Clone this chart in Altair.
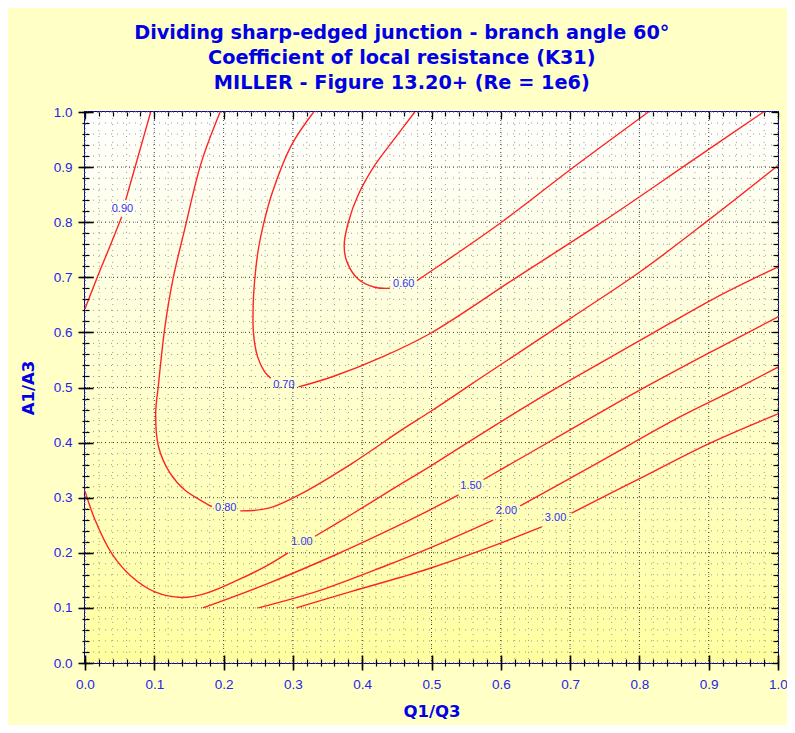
import altair as alt
import pandas as pd

TITLE_LINES = [
    "Dividing sharp-edged junction - branch angle 60°",
    "Coefficient of local resistance (K31)",
    "MILLER - Figure 13.20+ (Re = 1e6)",
]
X_TITLE = "Q1/Q3"
Y_TITLE = "A1/A3"
MAJOR_TICKS = [0.0, 0.1, 0.2, 0.3, 0.4, 0.5, 0.6, 0.7, 0.8, 0.9, 1.0]
MINOR_TICKS = [round(0.02 * i, 2) for i in range(51)]

# Contour polylines (x = Q1/Q3, y = A1/A3).
# Each level is split in two where its label interrupts the line.
K090_A_X = [0.000, 0.019, 0.0385, 0.053]
K090_A_Y = [0.643, 0.704, 0.764, 0.810]
K090_B_X = [0.0587, 0.077, 0.0948]
K090_B_Y = [0.840, 0.921, 1.000]

K080_A_X = [0.195, 0.168, 0.144, 0.127, 0.115, 0.106, 0.102, 0.106, 0.123, 0.144, 0.183]
K080_A_Y = [1.000, 0.909, 0.788, 0.697, 0.607, 0.505, 0.453, 0.393, 0.344, 0.314, 0.284]
K080_B_X = [0.224, 0.265, 0.313, 0.385, 0.457, 0.498, 0.541, 0.567, 0.700, 0.801, 0.902, 1.000]
K080_B_Y = [0.276, 0.281, 0.308, 0.362, 0.423, 0.456, 0.492, 0.514, 0.625, 0.710, 0.806, 0.903]

K070_A_X = [0.330, 0.298, 0.269, 0.256, 0.250, 0.246, 0.243, 0.243, 0.249, 0.259, 0.268]
K070_A_Y = [1.000, 0.940, 0.849, 0.788, 0.750, 0.710, 0.660, 0.600, 0.556, 0.529, 0.517]
K070_B_X = [0.308, 0.358, 0.430, 0.498, 0.623, 0.746, 0.873, 0.979]
K070_B_Y = [0.501, 0.520, 0.556, 0.598, 0.700, 0.800, 0.909, 1.000]

K060_A_X = [0.476, 0.447, 0.418, 0.394, 0.380, 0.374, 0.378, 0.394, 0.418, 0.440]
K060_A_Y = [1.000, 0.952, 0.903, 0.849, 0.800, 0.758, 0.728, 0.697, 0.682, 0.680]
K060_B_X = [0.479, 0.498, 0.601, 0.702, 0.813]
K060_B_Y = [0.694, 0.710, 0.800, 0.897, 1.000]

K100_A_X = [0.000, 0.0144, 0.0385, 0.067, 0.101, 0.1395, 0.173, 0.216, 0.260, 0.293]
K100_A_Y = [0.312, 0.260, 0.199, 0.157, 0.129, 0.119, 0.126, 0.148, 0.175, 0.200]
K100_B_X = [0.332, 0.385, 0.443, 0.498, 0.594, 0.671, 0.806, 0.907, 1.000]
K100_B_Y = [0.230, 0.270, 0.315, 0.357, 0.433, 0.492, 0.589, 0.661, 0.719]

K150_A_X = [0.170, 0.2645, 0.361, 0.430, 0.498, 0.539]
K150_A_Y = [0.100, 0.1446, 0.196, 0.236, 0.278, 0.305]
K150_B_X = [0.575, 0.700, 0.796, 0.907, 1.000]
K150_B_Y = [0.333, 0.423, 0.492, 0.567, 0.628]

K200_A_X = [0.250, 0.337, 0.433, 0.498, 0.589]
K200_A_Y = [0.100, 0.131, 0.176, 0.209, 0.2595]
K200_B_X = [0.628, 0.738, 0.859, 0.931, 1.000]
K200_B_Y = [0.285, 0.362, 0.447, 0.492, 0.537]

K300_A_X = [0.305, 0.385, 0.457, 0.498, 0.594, 0.659]
K300_A_Y = [0.100, 0.130, 0.156, 0.172, 0.215, 0.247]
K300_B_X = [0.702, 0.801, 0.902, 1.000]
K300_B_Y = [0.272, 0.335, 0.399, 0.452]

LABEL_TEXT = ["0.90", "0.80", "0.70", "0.60", "1.00", "1.50", "2.00", "3.00"]
LABEL_X = [0.054, 0.203, 0.287, 0.460, 0.313, 0.557, 0.608, 0.679]
LABEL_Y = [0.824, 0.281, 0.505, 0.687, 0.219, 0.321, 0.275, 0.263]

segments = [
    ("0.90a", K090_A_X, K090_A_Y), ("0.90b", K090_B_X, K090_B_Y),
    ("0.80a", K080_A_X, K080_A_Y), ("0.80b", K080_B_X, K080_B_Y),
    ("0.70a", K070_A_X, K070_A_Y), ("0.70b", K070_B_X, K070_B_Y),
    ("0.60a", K060_A_X, K060_A_Y), ("0.60b", K060_B_X, K060_B_Y),
    ("1.00a", K100_A_X, K100_A_Y), ("1.00b", K100_B_X, K100_B_Y),
    ("1.50a", K150_A_X, K150_A_Y), ("1.50b", K150_B_X, K150_B_Y),
    ("2.00a", K200_A_X, K200_A_Y), ("2.00b", K200_B_X, K200_B_Y),
    ("3.00a", K300_A_X, K300_A_Y), ("3.00b", K300_B_X, K300_B_Y),
]
rows = []
for name, xs, ys in segments:
    for i, (xv, yv) in enumerate(zip(xs, ys)):
        rows.append({"seg": name, "i": i, "x": xv, "y": yv})
lines_df = pd.DataFrame(rows)
labels_df = pd.DataFrame({"x": LABEL_X, "y": LABEL_Y, "t": LABEL_TEXT})
major_df = pd.DataFrame({"v": MAJOR_TICKS})
minor_df = pd.DataFrame({"v": MINOR_TICKS})

SC = alt.Scale(domain=[0, 1], nice=False, zero=False)
LABEL_BLUE = "#2424F2"
TITLE_BLUE = "#0000E6"


def axis(orient, values, tick_size, offset=0, **kw):
    base = dict(orient=orient, values=values, tickSize=tick_size, offset=offset,
                domain=False, grid=False, labels=False, title=None, ticks=True,
                tickColor="#000000", tickWidth=1.2, tickOpacity=1, zindex=2)
    base.update(kw)
    return alt.Axis(**base)


label_kw = dict(labels=True, format=".1f", labelColor=LABEL_BLUE, labelFont="Liberation Sans",
                labelFontSize=13.5, labelFlush=False, labelOverlap=False,
                titleColor=TITLE_BLUE, titleFont="DejaVu Sans", titleFontSize=16.5,
                titleFontWeight="bold", tickWidth=1.6)

bg = alt.Chart(alt.Data(values=[{}])).mark_rect(
    color=alt.Gradient(gradient="linear",
                       stops=[alt.GradientStop(color="#FFFFFF", offset=0),
                              alt.GradientStop(color="#FFFFA0", offset=1)],
                       x1=0, x2=0, y1=0, y2=1)
).encode(x=alt.value(0), x2=alt.value("width"), y=alt.value(0), y2=alt.value("height"))

minor_v = alt.Chart(minor_df).mark_rule(color="#9a9a9a", strokeDash=[1, 5], strokeWidth=1).encode(
    x=alt.X("v:Q", scale=SC, axis=axis("bottom", MINOR_TICKS, 3)))
minor_h = alt.Chart(minor_df).mark_rule(color="#9a9a9a", strokeDash=[1, 5], strokeWidth=1).encode(
    y=alt.Y("v:Q", scale=SC, axis=axis("left", MINOR_TICKS, 3)))
major_v = alt.Chart(major_df).mark_rule(color="#404040", strokeDash=[1, 3], strokeWidth=1).encode(
    x=alt.X("v:Q", scale=SC, axis=axis("bottom", MAJOR_TICKS, 7, labelPadding=7,
                                       title=X_TITLE, titlePadding=13, **label_kw)))
major_h = alt.Chart(major_df).mark_rule(color="#404040", strokeDash=[1, 3], strokeWidth=1).encode(
    y=alt.Y("v:Q", scale=SC, axis=axis("left", MAJOR_TICKS, 7, labelPadding=6,
                                       title=Y_TITLE, titlePadding=17, **label_kw)))

lines = alt.Chart(lines_df).mark_line(color="#FF2424", strokeWidth=1.4, interpolate="catmull-rom").encode(
    x=alt.X("x:Q", scale=SC, axis=axis("bottom", MAJOR_TICKS, 8, offset=-8, tickWidth=1.6)),
    y=alt.Y("y:Q", scale=SC, axis=axis("left", MAJOR_TICKS, 8, offset=-8, tickWidth=1.6)),
    detail="seg:N",
    order="i:Q",
)

labels = alt.Chart(labels_df).mark_text(font="Liberation Sans", fontSize=11, color="#3333FF").encode(
    x=alt.X("x:Q", scale=SC, axis=axis("bottom", MINOR_TICKS, 4, offset=-4)),
    y=alt.Y("y:Q", scale=SC, axis=axis("left", MINOR_TICKS, 4, offset=-4)),
    text="t:N",
)

inv_major = alt.Chart(labels_df).mark_point(opacity=0).encode(
    x=alt.X("x:Q", scale=SC, axis=axis("top", MAJOR_TICKS, 7, offset=-7)),
    y=alt.Y("y:Q", scale=SC, axis=axis("right", MAJOR_TICKS, 7, offset=-7)),
)
inv_minor = alt.Chart(labels_df).mark_point(opacity=0).encode(
    x=alt.X("x:Q", scale=SC, axis=axis("top", MINOR_TICKS, 4, offset=-4)),
    y=alt.Y("y:Q", scale=SC, axis=axis("right", MINOR_TICKS, 5, offset=-5)),
)

chart = alt.layer(
    bg, minor_v, minor_h, major_v, major_h, lines, labels, inv_major, inv_minor
).resolve_axis(x="independent", y="independent").properties(
    width=693,
    height=551,
    title=alt.TitleParams(text=TITLE_LINES, font="DejaVu Sans", fontSize=19.3, fontWeight="bold",
                          color=TITLE_BLUE, anchor="middle", frame="bounds", offset=12,
                          lineHeight=25, dx=-2),
    autosize=alt.AutoSizeParams(type="none"),
    padding={"left": 77, "top": 104, "right": 9, "bottom": 62},
    background="#FFFFC6",
).configure_view(stroke="#0000CC", strokeWidth=2)

chart.save("out.html", embed_options={"renderer": "svg", "actions": False})
